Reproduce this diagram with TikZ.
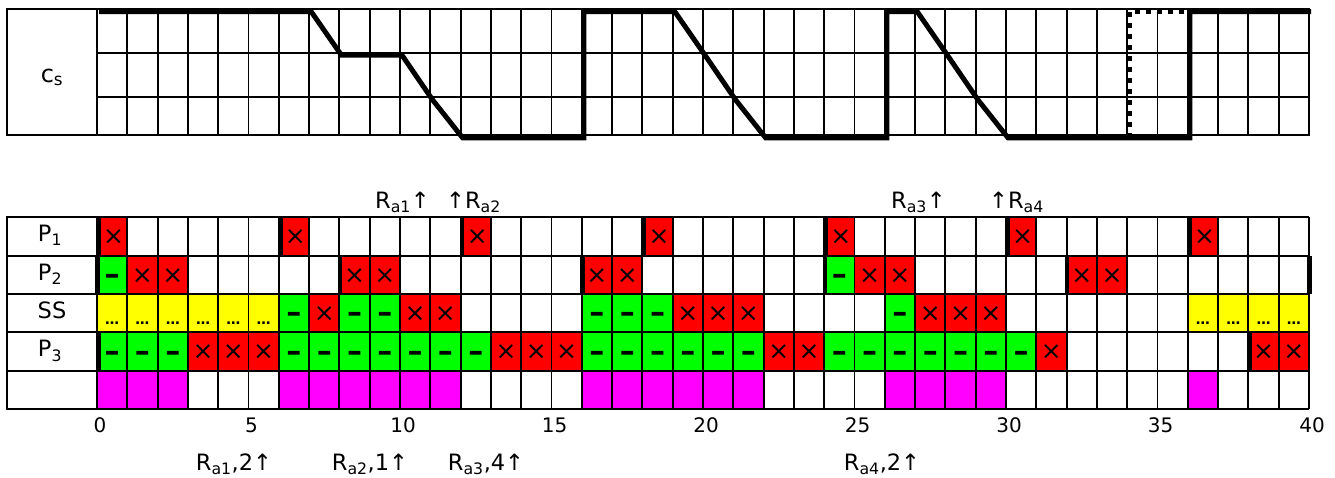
\documentclass[tikz,border=0pt]{standalone}
\usepackage{fontspec}
\setmainfont{DejaVu Sans}
\definecolor{cred}{RGB}{255,0,0}
\definecolor{cgreen}{RGB}{0,255,0}
\definecolor{cyellow}{RGB}{255,255,0}
\definecolor{cmag}{RGB}{255,0,255}
\tikzset{
  gridln/.style={line width=1.9pt, black},
  csline/.style={line width=5pt, black, line join=miter},
  csdot/.style={line width=5pt, black, dash pattern=on 5pt off 6pt},
  relbar/.style={line width=4.5pt, black},
  lab/.style={font=\fontsize{22.5}{24}\selectfont, inner sep=0pt, anchor=base},
  num/.style={font=\fontsize{20}{22}\selectfont, inner sep=0pt, anchor=base},
  xg/.style={font=\fontsize{25}{25}\selectfont, inner sep=0pt},
  dg/.style={font=\bfseries\fontsize{30}{30}\selectfont, inner sep=0pt},
  eg/.style={font=\bfseries\fontsize{14}{14}\selectfont, inner sep=0pt}
}
\begin{document}
\begin{tikzpicture}[x=1pt,y=-1pt]
\useasboundingbox (0,0) rectangle (1335,477);
% ---------- top chart c_s ----------
\draw[gridln] (7,9) rectangle (1309,135.3);
\foreach \t in {0,...,39} \draw[gridln] ({97+30.3*\t},9) -- ({97+30.3*\t},135.3);
\draw[gridln] (97,52.7) -- (1309,52.7) (97,97) -- (1309,97);
\node[lab, font=\fontsize{24}{26}\selectfont] (cs) at (52,82) {c\textsubscript{s}};
\begin{scope}[shift={(99,2.5)},x=30.3pt]
\coordinate (s0) at (0,9);
\coordinate (s1) at (40,9);
\draw[csline] (s0) -- (7,9) -- (8,52.7) -- (10,52.7) -- (11,97) -- (12,135.3) -- (16,135.3) -- (16,9) -- (19,9) -- (20,52.7) -- (21,97) -- (22,135.3) -- (26,135.3) -- (26,9) -- (27,9) -- (28,52.7) -- (29,97) -- (30,135.3) -- (36,135.3) -- (36,9) -- (s1);
\draw[csdot] (34,135.3) -- (34,9) -- (36,9);
\end{scope}
% ---------- bottom chart ----------
\begin{scope}[shift={(97,217.3)},x=30.3pt,y=-38.35pt]
% fills
\foreach \t in {0,6,12,18,24,30,36} \fill[cred] (\t,0) rectangle ++(1,1);
\foreach \t in {0,24} \fill[cgreen] (\t,1) rectangle ++(1,1);
\foreach \t in {1,2,8,9,16,17,25,26,32,33} \fill[cred] (\t,1) rectangle ++(1,1);
\foreach \t in {0,1,2,3,4,5,36,37,38,39} \fill[cyellow] (\t,2) rectangle ++(1,1);
\foreach \t in {6,8,9,16,17,18,26} \fill[cgreen] (\t,2) rectangle ++(1,1);
\foreach \t in {7,10,11,19,20,21,27,28,29} \fill[cred] (\t,2) rectangle ++(1,1);
\foreach \t in {0,1,2,6,7,8,9,10,11,12,16,17,18,19,20,21,24,25,26,27,28,29,30} \fill[cgreen] (\t,3) rectangle ++(1,1);
\foreach \t in {3,4,5,13,14,15,22,23,31,38,39} \fill[cred] (\t,3) rectangle ++(1,1);
\foreach \t in {0,1,2,6,7,8,9,10,11,16,17,18,19,20,21,26,27,28,29,36} \fill[cmag] (\t,4) rectangle ++(1,1);
% grid
\foreach \t in {0,...,40} \draw[gridln] (\t,0) -- (\t,5);
\foreach \r in {0,...,5} \draw[gridln] (0,\r) -- (40,\r);
% glyphs
\foreach \t in {0,6,12,18,24,30,36} \node[xg] (pa\t) at (\t+0.55,0.52) {×};
\foreach \t in {0,24} \node[dg] (pbd\t) at (\t+0.5,1.62) {–};
\foreach \t in {1,2,8,9,16,17,25,26,32,33} \node[xg] (pbx\t) at (\t+0.5,1.52) {×};
\foreach \t in {0,1,2,3,4,5,36,37,38,39} \node[eg] (sse\t) at (\t+0.5,2.76) {…};
\foreach \t in {6,8,9,16,17,18,26} \node[dg] (ssd\t) at (\t+0.5,2.62) {–};
\foreach \t in {7,10,11,19,20,21,27,28,29} \node[xg] (ssx\t) at (\t+0.5,2.52) {×};
\foreach \t in {0,1,2,6,7,8,9,10,11,12,16,17,18,19,20,21,24,25,26,27,28,29,30} \node[dg] (pcd\t) at (\t+0.5,3.62) {–};
\foreach \t in {3,4,5,13,14,15,22,23,31,38,39} \node[xg] (pcx\t) at (\t+0.5,3.52) {×};
% release bars
\foreach \t in {0,6,12,18,24,30,36} \draw[relbar] (\t+0.05,0) -- (\t+0.05,1);
\foreach \t in {0,8,16,24,32,40} \draw[relbar] (\t+0.02,1) -- (\t+0.02,2);
\foreach \t in {0,38} \draw[relbar] (\t+0.05,3) -- (\t+0.05,4);
\end{scope}
% label column
\draw[gridln] (7,217.3) rectangle (97,409.05);
\foreach \y in {255.65,294,332.35,370.7} \draw[gridln] (7,\y) -- (97,\y);
\node[lab] (lp1) at (50,241.5) {P\textsubscript{1}};
\node[lab] (lp2) at (50,280) {P\textsubscript{2}};
\node[lab] (lss) at (52,318.3) {SS};
\node[lab] (lp3) at (50,356.7) {P\textsubscript{3}};
% axis numbers
\foreach \n in {0,5,...,40} \node[num] (n\n) at ({100+30.3*\n},432) {\n};
% annotations
\node[lab, anchor=base east] (ra1) at (430,208) {R\textsubscript{a1}↑};
\node[lab, anchor=base west] (ra2) at (446,208) {↑R\textsubscript{a2}};
\node[lab, anchor=base east] (ra3) at (946,208) {R\textsubscript{a3}↑};
\node[lab, anchor=base west] (ra4) at (989,208) {↑R\textsubscript{a4}};
\node[lab] (ba1) at (234,470) {R\textsubscript{a1},2↑};
\node[lab] (ba2) at (370,470) {R\textsubscript{a2},1↑};
\node[lab] (ba3) at (486,470) {R\textsubscript{a3},4↑};
\node[lab] (ba4) at (882,470) {R\textsubscript{a4},2↑};
\end{tikzpicture}
\end{document}
